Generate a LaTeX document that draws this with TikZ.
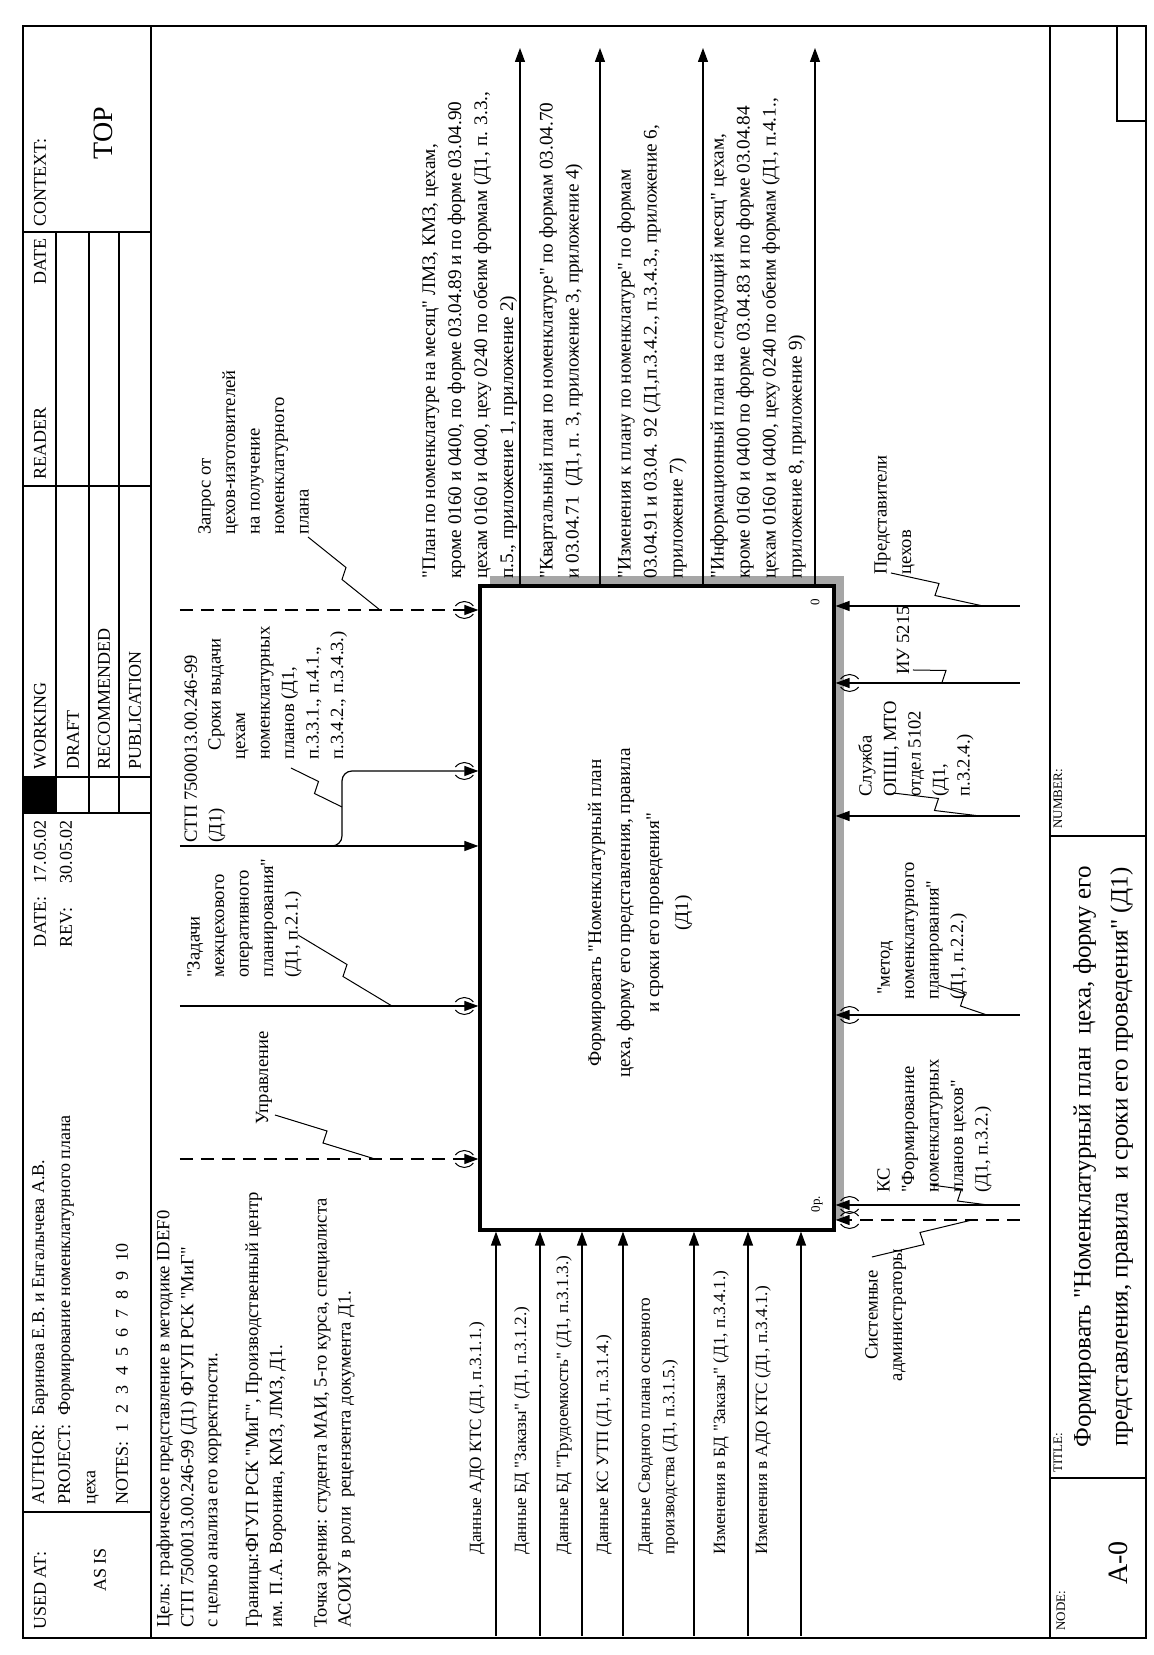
\documentclass[tikz,border=0pt]{standalone}
\usepackage{fontspec}
\setmainfont{Liberation Serif}[Ligatures=TeXOff]
\usetikzlibrary{arrows.meta,calc,positioning}

\newcommand{\labfont}{\fontsize{9.3}{12.25}\selectfont}
\newcommand{\infont}{\fontsize{8.6}{12.25}\selectfont}
\newcommand{\outfont}{\fontsize{9.6}{13}\selectfont}
\newcommand{\parfont}{\fontsize{9.3}{12}\selectfont}
\newcommand{\hdrfont}{\fontsize{9}{10}\selectfont}
\newcommand{\tinyfont}{\fontsize{6.5}{8}\selectfont}
\newcommand{\boxfont}{\fontsize{9.6}{14.5}\selectfont}
\newcommand{\titfont}{\fontsize{12.5}{18.5}\selectfont}
% zigzag callout from a label to its arrow
\newcommand{\squig}[4]{\draw[callout] (#1) -- ($(#1)!0.5!(#2)+(#3)$) -- ($(#1)!0.5!(#2)+(#4)$) -- (#2);}

\begin{document}
\begin{tikzpicture}[x=0.5pt, y=0.5pt,
    rule/.style={line width=0.6pt},
    procbox/.style={draw, line width=1.6pt, fill=white, minimum width=322pt, minimum height=177pt, inner sep=0pt},
    lbl/.style={font=\labfont, align=left, inner sep=0pt, anchor=north west},
    lblout/.style={font=\outfont, align=left, inner sep=0pt, anchor=north west},
    lblin/.style={font=\infont, align=left, inner sep=0pt, anchor=west},
    lblone/.style={font=\labfont, inner sep=0pt, anchor=west},
    hdr/.style={font=\hdrfont, inner sep=0pt, anchor=west},
    arr/.style={line width=0.6pt, -{Triangle[length=7pt,width=5pt]}},
    dasharr/.style={dash pattern=on 6.5pt off 4pt},
    callout/.style={line width=0.5pt},
    tunnel/.pic={
      \draw[line width=0.5pt] (-4,9) .. controls (-10,4) and (-10,-4) .. (-4,-9);
      \draw[line width=0.5pt] (4,9) .. controls (10,4) and (10,-4) .. (4,-9);
    },
]
\begin{scope}[rotate=90, transform shape]
\useasboundingbox (0,0) rectangle (1655,1153);

% Frame and header
\draw[rule] (17,7) rectangle (1629,1130);
\draw[rule] (17,1002) -- (1629,1002);
\foreach \x in {143,842,878,1169,1423} \draw[rule] (\x,1002) -- (\x,1130);
\foreach \y in {1097,1064,1034} \draw[rule] (842,\y) -- (1423,\y);
\fill (842,1097) rectangle (878,1130);

\node[hdr] (usedat) at (25,1113) {USED AT:};
\node[font=\hdrfont] (asis) at (85,1053) {AS IS};
\node[hdr] (author) at (150,1113) {AUTHOR:\ \ Баринова Е.В. и Енгалычева А.В.};
\node[hdr] (project) at (150,1087) {PROJECT:\ \ Формирование номенклатурного плана};
\node[hdr] (project2) at (150,1060) {цеха};
\node[hdr] (notes) at (150,1031) {NOTES:\ \ 1\hspace{5pt}2\hspace{5pt}3\hspace{5pt}4\hspace{5pt}5\hspace{5pt}6\hspace{5pt}7\hspace{5pt}8\hspace{5pt}9\hspace{5pt}10};
\node[hdr, anchor=east] (date) at (835,1113) {\makebox[32pt][l]{DATE:}17.05.02};
\node[hdr, anchor=east] (rev) at (835,1087) {\makebox[32pt][l]{REV:}30.05.02};
\node[hdr] (working) at (885,1113) {WORKING};
\node[hdr] (draft) at (885,1080) {DRAFT};
\node[hdr] (recom) at (885,1049) {RECOMMENDED};
\node[hdr] (publ) at (885,1018) {PUBLICATION};
\node[hdr] (reader) at (1175,1113) {READER};
\node[hdr] (rdate) at (1370,1113) {DATE};
\node[hdr] (context) at (1428,1113) {CONTEXT:};
\node[font=\fontsize{14}{16}\selectfont] (top) at (1522,1050) {TOP};

% Footer
\draw[rule] (17,103) -- (1629,103);
\draw[rule] (177,7) -- (177,103);
\draw[rule] (819,7) -- (819,103);
\draw[rule] (1534,7) -- (1534,36) -- (1629,36);
\node[font=\tinyfont, inner sep=0pt, anchor=west] (nodelbl) at (24,92) {NODE:};
\node[font=\fontsize{14}{16}\selectfont] (nodeno) at (92,35) {A-0};
\node[font=\tinyfont, inner sep=0pt, anchor=west] (titlelbl) at (182,95) {TITLE:};
\node[font=\titfont, align=center] (title) at (498,50) {Формировать "Номенклатурный план\ \ цеха, форму его\\представления, правила\ \ и сроки его проведения" (Д1)};
\node[font=\tinyfont, inner sep=0pt, anchor=west] (numlbl) at (826,95) {NUMBER:};

% Purpose, bounds and viewpoint
\node[lbl, font=\parfont] (goal) at (27,997) {Цель: графическое представление в методике IDEF0\\СТП 7500013.00.246-99 (Д1) ФГУП РСК "МиГ"\\с целью анализа его корректности.};
\node[lbl, font=\parfont] (bounds) at (27,908) {Границы:ФГУП РСК "МиГ", Производственный центр\\им. П.А. Воронина, КМЗ, ЛМЗ, Д1.};
\node[lbl, font=\parfont] (view) at (27,839) {Точка зрения: студента МАИ, 5-го курса, специалиста\\АСОИУ в роли\ \ рецензента документа Д1.};

% Process box
\fill[black!35] (435,309) rectangle (1079,663);
\node[procbox] (box) at (747,496) {};
\node[font=\boxfont, align=center] (boxtxt) at (742,513) {Формировать "Номенклатурный план\\цеха, форму его представления, правила\\и сроки его проведения"\\(Д1)};
\node[font=\tinyfont, inner sep=0pt] (boxnum) at (1053,338) {0};
\node[font=\tinyfont, inner sep=0pt] (boxcost) at (451,336) {0р.};

% Inputs
\coordinate (i1) at (19,657);
\coordinate (i2) at (19,613);
\coordinate (i3) at (19,571);
\coordinate (i4) at (19,530);
\coordinate (i5) at (19,459);
\coordinate (i6) at (19,405);
\coordinate (i7) at (19,352);
\foreach \c in {i1,i2,i3,i4,i5,i6,i7} \draw[arr] (\c) -- (\c -| box.west);
\node[lblin] (li1) at (100,676) {Данные АДО КТС (Д1, п.3.1.1.)};
\node[lblin] (li2) at (100,631) {Данные БД "Заказы" (Д1, п.3.1.2.)};
\node[lblin] (li3) at (100,589) {Данные БД "Трудоемкость" (Д1, п.3.1.3.)};
\node[lblin] (li4) at (100,549) {Данные КС УТП (Д1, п.3.1.4.)};
\node[lblin, anchor=north west] (li5) at (100,515) {Данные Сводного плана основного\\производства (Д1, п.3.1.5.)};
\node[lblin] (li6) at (100,432) {Изменения в БД "Заказы" (Д1, п.3.4.1.)};
\node[lblin] (li7) at (100,390) {Изменения в АДО КТС (Д1, п.3.4.1.)};

% Controls
\coordinate (c1) at (496,973);
\coordinate (c2) at (649,973);
\coordinate (c3) at (809,973);
\coordinate (c4) at (1045,973);
\coordinate (fork) at (809,826);
\coordinate (c5) at (884,811);
\draw[arr, dasharr] (c1) -- (c1 |- box.north);
\draw[arr] (c2) -- (c2 |- box.north);
\draw[arr] (c3) -- (c3 |- box.north);
\draw[arr, dasharr] (c4) -- (c4 |- box.north);
\draw[arr, rounded corners=5pt] (fork) |- (c5) -- (c5 |- box.north);
\foreach \c in {c1,c2,c4,c5} \pic at ($(\c |- box.north)+(0,14)$) {tunnel};

\node[lblone] (lc1) at (530,889) {Управление};
\node[lbl] (lc2) at (677,966) {"Задачи\\межцехового\\оперативного\\планирования"\\(Д1, п.2.1.)};
\node[lbl] (lc3) at (812,969) {СТП 7500013.00.246-99\\(Д1)};
\node[lbl] (lc5) at (895,945) {\ \ Сроки выдачи\\цехам\\номенклатурных\\планов (Д1,\\п.3.3.1., п.4.1.,\\п.3.4.2., п.3.4.3.)};
\node[lbl] (lc4) at (1120,955) {Запрос от\\цехов-изготовителей\\на получение\\номенклатурного\\плана};

\coordinate (q1a) at (540,878);  \coordinate (q1b) at (496,778);
\coordinate (q2a) at (720,855);  \coordinate (q2b) at (649,761);
\coordinate (q5a) at (887,862);  \coordinate (q5b) at (848,811);
\coordinate (q4a) at (1118,845); \coordinate (q4b) at (1045,773);
\squig{q1a}{q1b}{6,-2}{-6,2}
\squig{q2a}{q2b}{6,-2}{-6,2}
\squig{q5a}{q5b}{6,-2}{-6,2}
\squig{q4a}{q4b}{6,-2}{-6,2}

% Outputs
\coordinate (o1) at (1607,633);
\coordinate (o2) at (1607,553);
\coordinate (o3) at (1607,450);
\coordinate (o4) at (1607,338);
\foreach \c in {o1,o2,o3,o4} \draw[arr] (box.east |- \c) -- (\c);
\node[lblout] (lo1) at (1076,731) {"План по номенклатуре на месяц" ЛМЗ, КМЗ, цехам,\\кроме 0160 и 0400, по форме 03.04.89 и по форме 03.04.90\\цехам 0160 и 0400, цеху 0240 по обеим формам (Д1, п. 3.3.,\\п.5., приложение 1, приложение 2)};
\node[lblout] (lo2) at (1076,614) {"Квартальный план по номенклатуре" по формам 03.04.70\\и 03.04.71\ \ (Д1, п. 3, приложение 3, приложение 4)};
\node[lblout] (lo3) at (1076,536) {"Изменения к плану по номенклатуре" по формам\\03.04.91 и 03.04. 92 (Д1,п.3.4.2., п.3.4.3., приложение 6,\\приложение 7)};
\node[lblout] (lo4) at (1076,443) {"Информационный план на следующий месяц" цехам,\\кроме 0160 и 0400 по форме 03.04.83 и по форме 03.04.84\\цехам 0160 и 0400, цеху 0240 по обеим формам (Д1, п.4.1.,\\приложение 8, приложение 9)};

% Mechanisms
\coordinate (m1) at (1049,133);
\coordinate (m2) at (972,133);
\coordinate (m3) at (839,133);
\coordinate (m4) at (640,133);
\coordinate (m5) at (450,133);
\coordinate (m6) at (435,133);
\foreach \c in {m1,m2,m3,m4,m5} \draw[arr] (\c) -- (\c |- box.south);
\draw[arr, dasharr] (m6) -- (m6 |- box.south);
\foreach \c in {m2,m4,m5,m6} \pic at ($(\c |- box.south)+(0,-14)$) {tunnel};

\node[lbl] (lm1) at (1080,279) {Представители\\цехов};
\node[lblone] (lm2) at (980,250) {ИУ 5215};
\node[lbl] (lm3) at (858,295) {Служба\\ОПШ, МТО\\отдел 5102\\(Д1,\\п.3.2.4.)};
\node[lbl] (lm4) at (655,276) {\ "метод\\номенклатурного\\планирования"\\(Д1, п.2.2.)};
\node[lbl] (lm5) at (462,276) {КС\\"Формирование\\номенклатурных\\планов цехов"\\(Д1, п.3.2.)};
\node[font=\labfont, align=center, inner sep=0pt, anchor=north] (lm6) at (340,288) {Системные\\администраторы};

\coordinate (r1a) at (1082,262); \coordinate (r1b) at (1049,170);
\coordinate (r2a) at (985,240);  \coordinate (r2b) at (972,178);
\coordinate (r3a) at (862,260);  \coordinate (r3b) at (839,173);
\coordinate (r4a) at (670,215);  \coordinate (r4b) at (640,166);
\coordinate (r5a) at (470,222);  \coordinate (r5b) at (450,165);
\coordinate (r6a) at (398,281);  \coordinate (r6b) at (435,181);
\squig{r1a}{r1b}{6,-2}{-6,2}
\squig{r2a}{r2b}{6,-2}{-6,2}
\squig{r3a}{r3b}{6,-2}{-6,2}
\squig{r4a}{r4b}{6,-2}{-6,2}
\squig{r5a}{r5b}{6,-2}{-6,2}
\squig{r6a}{r6b}{-6,-2}{6,2}
\end{scope}
\end{tikzpicture}
\end{document}
